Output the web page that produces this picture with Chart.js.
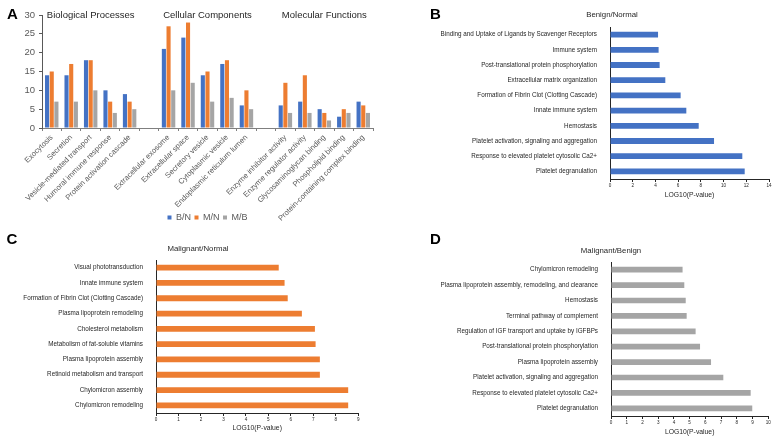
<!DOCTYPE html>
<html>
<head>
<meta charset="utf-8">
<script src="https://cdn.jsdelivr.net/npm/chart.js@4.4.1/dist/chart.umd.min.js"></script>
<style>
  html, body { margin: 0; padding: 0; background: #ffffff; }
  body { width: 778px; height: 440px; position: relative; overflow: hidden; }
  canvas { position: absolute; }
</style>
</head>
<body>
<canvas id="chartA" width="390" height="232" style="left:0px;top:0px;"></canvas>
<canvas id="chartB" width="388" height="225" style="left:390px;top:0px;"></canvas>
<canvas id="chartC" width="390" height="215" style="left:0px;top:225px;"></canvas>
<canvas id="chartD" width="388" height="215" style="left:390px;top:225px;"></canvas>
<script>
// ---------- Panel A data (GO enrichment counts) ----------
const bpCategories = ['Exocytosis', 'Secretion', 'Vesicle-mediated transport', 'Humoral immune response', 'Protein activation cascade'];
const ccCategories = ['Extracellular exosome', 'Extracellular space', 'Secretory vesicle', 'Cytoplasmic vesicle', 'Endoplasmic reticulum lumen'];
const mfCategories = ['Enzyme inhibitor activity', 'Enzyme regulator activity', 'Glycosaminoglycan binding', 'Phospholipid binding', 'Protein-containing complex binding'];
const groupTitles = ['Biological Processes', 'Cellular Components', 'Molecular Functions'];
const seriesNames = ['B/N', 'M/N', 'M/B'];
const bnBP = [14, 14, 18, 10, 9];
const bnCC = [21, 24, 14, 17, 6];
const bnMF = [6, 7, 5, 3, 7];
const mnBP = [15, 17, 18, 7, 7];
const mnCC = [27, 28, 15, 18, 10];
const mnMF = [12, 14, 4, 5, 6];
const mbBP = [7, 7, 10, 4, 5];
const mbCC = [10, 12, 7, 8, 5];
const mbMF = [4, 4, 2, 4, 4];
const yTicksA = [0, 5, 10, 15, 20, 25, 30];

// ---------- Panel B data ----------
const pathwaysB = ['Binding and Uptake of Ligands by Scavenger Receptors', 'Immune system', 'Post-translational protein phosphorylation', 'Extracellular matrix organization', 'Formation of Fibrin Clot (Clotting Cascade)', 'Innate immune system', 'Hemostasis', 'Platelet activation, signaling and aggregation', 'Response to elevated platelet cytosolic Ca2+', 'Platelet degranulation'];
const logPB = [4.23, 4.28, 4.37, 4.87, 6.22, 6.72, 7.81, 9.16, 11.65, 11.86];

// ---------- Panel C data ----------
const pathwaysC = ['Visual phototransduction', 'Innate immune system', 'Formation of Fibrin Clot (Clotting Cascade)', 'Plasma lipoprotein remodeling', 'Cholesterol metabolism', 'Metabolism of fat-soluble vitamins', 'Plasma lipoprotein assembly', 'Retinoid metabolism and transport', 'Chylomicron assembly', 'Chylomicron remodeling'];
const logPC = [5.46, 5.72, 5.86, 6.49, 7.07, 7.10, 7.29, 7.29, 8.55, 8.55];

// ---------- Panel D data ----------
const pathwaysD = ['Chylomicron remodeling', 'Plasma lipoprotein assembly, remodeling, and clearance', 'Hemostasis', 'Terminal pathway of complement', 'Regulation of IGF transport and uptake by IGFBPs', 'Post-translational protein phosphorylation', 'Plasma lipoprotein assembly', 'Platelet activation, signaling and aggregation', 'Response to elevated platelet cytosolic Ca2+', 'Platelet degranulation'];
const logPD = [4.55, 4.66, 4.75, 4.81, 5.38, 5.66, 6.36, 7.14, 8.88, 8.98];

const FONT = "Arial, 'Liberation Sans', Helvetica, sans-serif";
Chart.defaults.font.family = FONT;
Chart.defaults.animation = false;
Chart.defaults.devicePixelRatio = 1;
Chart.defaults.responsive = false;
Chart.defaults.plugins.tooltip.enabled = false;

const COL_BLUE = '#4472C4', COL_ORANGE = '#ED7D31', COL_GRAY = '#A5A5A5';

// plugin drawing fixed text (panel letters, subtitles, group titles)
const textPlugin = {
  id: 'fixedText',
  afterDraw(chart, args, opts) {
    const ctx = chart.ctx;
    (opts.items || []).forEach(it => {
      ctx.save();
      ctx.font = it.font;
      ctx.fillStyle = it.color || '#262626';
      ctx.textAlign = it.align || 'center';
      ctx.textBaseline = 'middle';
      const x = typeof it.x === 'function' ? it.x(chart) : it.x;
      const y = typeof it.y === 'function' ? it.y(chart) : it.y;
      ctx.fillText(it.text, x, y);
      ctx.restore();
    });
  }
};

// let the rotated x labels of panel A run past the legend box (avoid clipping)
const unclipPlugin = {
  id: 'unclipX',
  afterLayout(chart) {
    const sx = chart.scales.x;
    sx.bottom = chart.height;
    sx.height = chart.height - sx.top;
  }
};

// ---------- Build Panel A ----------
const labelsA = [...bpCategories, '', ...ccCategories, '', ...mfCategories];
function joinGroups(a, b, c) { return [...a, null, ...b, null, ...c]; }
const dataA = [
  joinGroups(bnBP, bnCC, bnMF),
  joinGroups(mnBP, mnCC, mnMF),
  joinGroups(mbBP, mbCC, mbMF)
];
const colorsA = [COL_BLUE, COL_ORANGE, COL_GRAY];
const midCats = [bpCategories[2], ccCategories[2], mfCategories[2]];

new Chart(document.getElementById('chartA'), {
  type: 'bar',
  data: {
    labels: labelsA,
    datasets: seriesNames.map((n, i) => ({
      label: n, data: dataA[i], backgroundColor: colorsA[i], borderWidth: 0,
      categoryPercentage: 0.72, barPercentage: 0.88
    }))
  },
  options: {
    layout: { padding: { left: 0, right: 17, top: 15, bottom: 0 } },
    scales: {
      x: {
        grid: { display: true, drawOnChartArea: false, drawTicks: true, tickLength: 3, color: '#7f7f7f' },
        border: { display: true, color: '#7f7f7f', width: 1 },
        ticks: { autoSkip: false, minRotation: 45, maxRotation: 45, padding: 2, color: '#595959', font: { size: 7.6 } },
        afterFit(scale) { scale.height = 81.5; }
      },
      y: {
        min: 0, max: 30,
        grid: { display: true, drawOnChartArea: false, drawTicks: true, tickLength: 3, color: '#595959' },
        border: { display: true, color: '#595959', width: 1 },
        ticks: { stepSize: 5, padding: 4, color: '#595959', font: { size: 9.5 },
          callback: (v) => yTicksA.includes(v) ? String(v) : '' },
        afterFit(scale) { scale.width = 42; }
      }
    },
    plugins: {
      legend: {
        position: 'bottom', fullSize: false,
        labels: { boxWidth: 4, boxHeight: 4, padding: 3.5, color: '#595959', font: { size: 9 } }
      },
      fixedText: {
        items: [
          { text: 'A', x: 12.5, y: 15, font: 'bold 15px ' + FONT, color: '#000' },
          ...groupTitles.map((t, i) => ({
            text: t, font: '9.5px ' + FONT, color: '#262626',
            x: (c) => c.scales.x.getPixelForValue(labelsA.indexOf(midCats[i])),
            y: 15
          }))
        ]
      }
    }
  },
  plugins: [textPlugin, unclipPlugin]
});

// ---------- Horizontal bar builder ----------
function hbar(id, labels, values, color, cfg) {
  return new Chart(document.getElementById(id), {
    type: 'bar',
    data: { labels: labels, datasets: [{ data: values, backgroundColor: color, borderWidth: 0, categoryPercentage: 1, barPercentage: cfg.barPct }] },
    options: {
      indexAxis: 'y',
      layout: { padding: { left: 0, right: cfg.right, top: cfg.top, bottom: 0 } },
      scales: {
        y: {
          grid: { display: false },
          border: { display: true, color: '#262626', width: 1 },
          ticks: { autoSkip: false, padding: 5, color: '#262626', font: { size: 6.3 } },
          afterFit(scale) { scale.width = cfg.yWidth; }
        },
        x: {
          min: 0, max: cfg.max,
          grid: { display: true, drawOnChartArea: false, drawTicks: true, tickLength: 3, color: '#262626' },
          border: { display: true, color: '#262626', width: 1 },
          ticks: { stepSize: cfg.step, padding: 0.6, color: '#262626', font: { size: 4.6 } },
          title: { display: true, text: 'LOG10(P-value)', color: '#262626', font: { size: 6.8 }, padding: { top: 0, bottom: cfg.titlePad } },
          afterFit(scale) { scale.height = cfg.xHeight; }
        }
      },
      plugins: {
        legend: { display: false },
        fixedText: {
          items: [
            { text: cfg.letter, x: cfg.letterX, y: 15, font: 'bold 15px ' + FONT, color: '#000' },
            { text: cfg.title, x: cfg.titleX, y: cfg.titleY, font: '7.8px ' + FONT, color: '#262626' }
          ]
        }
      }
    },
    plugins: [textPlugin]
  });
}

hbar('chartB', pathwaysB, logPB, COL_BLUE, {
  barPct: 0.38, right: 9, top: 27, yWidth: 220, xHeight: 46, max: 14, step: 2, titlePad: 25.9,
  letter: 'B', letterX: 45.3, title: 'Benign/Normal', titleX: 222, titleY: 15
});
hbar('chartC', pathwaysC, logPC, COL_ORANGE, {
  barPct: 0.38, right: 31.7, top: 35, yWidth: 156, xHeight: 27, max: 9, step: 1, titlePad: 7.6,
  letter: 'C', letterX: 12, title: 'Malignant/Normal', titleX: 198, titleY: 24
});
hbar('chartD', pathwaysD, logPD, COL_GRAY, {
  barPct: 0.37, right: 9.7, top: 37, yWidth: 221, xHeight: 24, max: 10, step: 1, titlePad: 4.2,
  letter: 'D', letterX: 45.3, title: 'Malignant/Benign', titleX: 221, titleY: 26
});
</script>
</body>
</html>
